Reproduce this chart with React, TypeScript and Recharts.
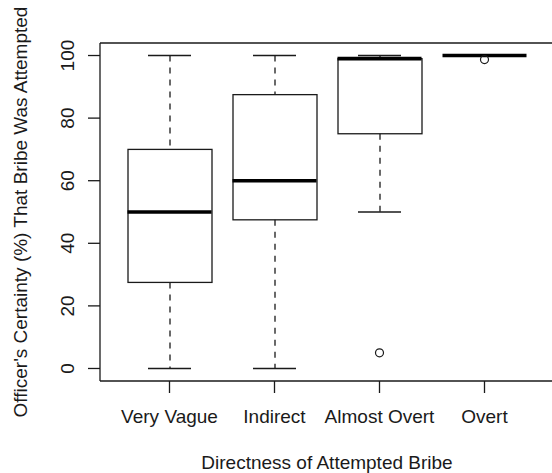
import React from 'react';
import { ComposedChart, Bar, Line, XAxis, YAxis, CartesianGrid } from 'recharts';

// Box plot stats
const categories = ['Very Vague', 'Indirect', 'Almost Overt', 'Overt'];
const mins = [0, 0, 50, 100];
const q1s = [27.5, 47.5, 75, 100];
const medians = [50, 60, 99, 100];
const q3s = [70, 87.5, 99, 100];
const maxs = [100, 100, 100, 100];
const outliers: (number | null)[] = [null, null, 5, 98.7];
const yTicks = [0, 20, 40, 60, 80, 100];

const data = categories.map((name, i) => ({
  name,
  low: [mins[i], q1s[i]],
  box: [q1s[i], q3s[i]],
  high: [q3s[i], maxs[i]],
  min: mins[i],
  max: maxs[i],
  median: medians[i],
  out: outliers[i],
}));

const INK = '#1a1a1a';
const FONT = '"Liberation Sans", Arial, Helvetica, sans-serif';
const BOX_W = 84;
const CAP_W = 43;

const WhiskerShape = (props: any) => {
  const { x, y, width, height } = props;
  if (x == null || y == null || !height) return <g />;
  const cx = x + width / 2;
  return <line x1={cx} x2={cx} y1={y} y2={y + height} stroke={INK} strokeWidth={1.3} strokeDasharray="6 6" />;
};

const BoxShape = (props: any) => {
  const { x, y, width, height } = props;
  if (x == null || y == null) return <g />;
  return <rect x={x} y={y} width={width} height={Math.max(height, 0)} fill="none" stroke={INK} strokeWidth={1.3} />;
};

const capDot = (props: any) => {
  const { cx, cy, index } = props;
  if (cx == null || cy == null) return <g key={`c${index}`} />;
  return <line key={`c${index}`} x1={cx - CAP_W / 2} x2={cx + CAP_W / 2} y1={cy} y2={cy} stroke={INK} strokeWidth={1.3} />;
};

const medianDot = (props: any) => {
  const { cx, cy, index } = props;
  if (cx == null || cy == null) return <g key={`m${index}`} />;
  return <line key={`m${index}`} x1={cx - BOX_W / 2} x2={cx + BOX_W / 2} y1={cy} y2={cy} stroke="#000" strokeWidth={3.6} />;
};

const outlierDot = (props: any) => {
  const { cx, cy, index } = props;
  if (cx == null || cy == null || props.value == null) return <g key={`o${index}`} />;
  return <circle key={`o${index}`} cx={cx} cy={cy} r={4} fill="none" stroke={INK} strokeWidth={1.2} />;
};

const XTick = (props: any) => {
  const { x, y, payload } = props;
  return (
    <text x={x} y={y + 28} textAnchor="middle" fontFamily={FONT} fontSize={19} fill={INK}>
      {payload.value}
    </text>
  );
};

const YTick = (props: any) => {
  const { x, y, payload } = props;
  return (
    <text x={x - 12} y={y} transform={`rotate(-90, ${x - 12}, ${y})`} textAnchor="middle" fontFamily={FONT} fontSize={19} fill={INK}>
      {payload.value}
    </text>
  );
};

export default function App() {
  return (
    <div style={{ position: 'absolute', left: 0, top: 0, width: 552, height: 473, overflow: 'hidden', background: '#fff' }}>
      <ComposedChart
        width={560}
        height={473}
        data={data}
        margin={{ top: 43, right: 6, bottom: 0, left: 0 }}
        barSize={BOX_W}
        barGap={-BOX_W}
      >
        {/* top edge of the plot frame */}
        <CartesianGrid
          vertical={false}
          horizontalCoordinatesGenerator={({ offset }: any) => [offset.top]}
          stroke={INK}
          strokeWidth={1.3}
        />
        <XAxis
          dataKey="name"
          padding={{ left: 17, right: 17 }}
          height={92}
          tickSize={12}
          tick={<XTick />}
          axisLine={{ stroke: INK, strokeWidth: 1.3 }}
          tickLine={{ stroke: INK, strokeWidth: 1.3 }}
          label={{
            content: (p: any) => {
              const vb = p.viewBox;
              return (
                <text x={vb.x + vb.width / 2} y={vb.y + 88} textAnchor="middle" fontFamily={FONT} fontSize={19} fill={INK}>
                  Directness of Attempted Bribe
                </text>
              );
            },
          }}
        />
        <YAxis
          type="number"
          domain={[-4, 104]}
          ticks={yTicks}
          allowDataOverflow
          width={100}
          tickSize={12}
          tick={<YTick />}
          axisLine={{ stroke: INK, strokeWidth: 1.3 }}
          tickLine={{ stroke: INK, strokeWidth: 1.3 }}
          label={{
            content: (p: any) => {
              const vb = p.viewBox;
              const cy = vb.y + vb.height / 2;
              return (
                <text x={27} y={cy} transform={`rotate(-90, 27, ${cy})`} textAnchor="middle" fontFamily={FONT} fontSize={19} fill={INK}>
                  Officer's Certainty (%) That Bribe Was Attempted
                </text>
              );
            },
          }}
        />
        <Bar dataKey="low" shape={<WhiskerShape />} isAnimationActive={false} />
        <Bar dataKey="high" shape={<WhiskerShape />} isAnimationActive={false} />
        <Bar dataKey="box" shape={<BoxShape />} isAnimationActive={false} />
        <Line dataKey="min" stroke="none" dot={capDot} activeDot={false} isAnimationActive={false} />
        <Line dataKey="max" stroke="none" dot={capDot} activeDot={false} isAnimationActive={false} />
        <Line dataKey="median" stroke="none" dot={medianDot} activeDot={false} isAnimationActive={false} />
        <Line dataKey="out" stroke="none" dot={outlierDot} activeDot={false} isAnimationActive={false} />
      </ComposedChart>
    </div>
  );
}
